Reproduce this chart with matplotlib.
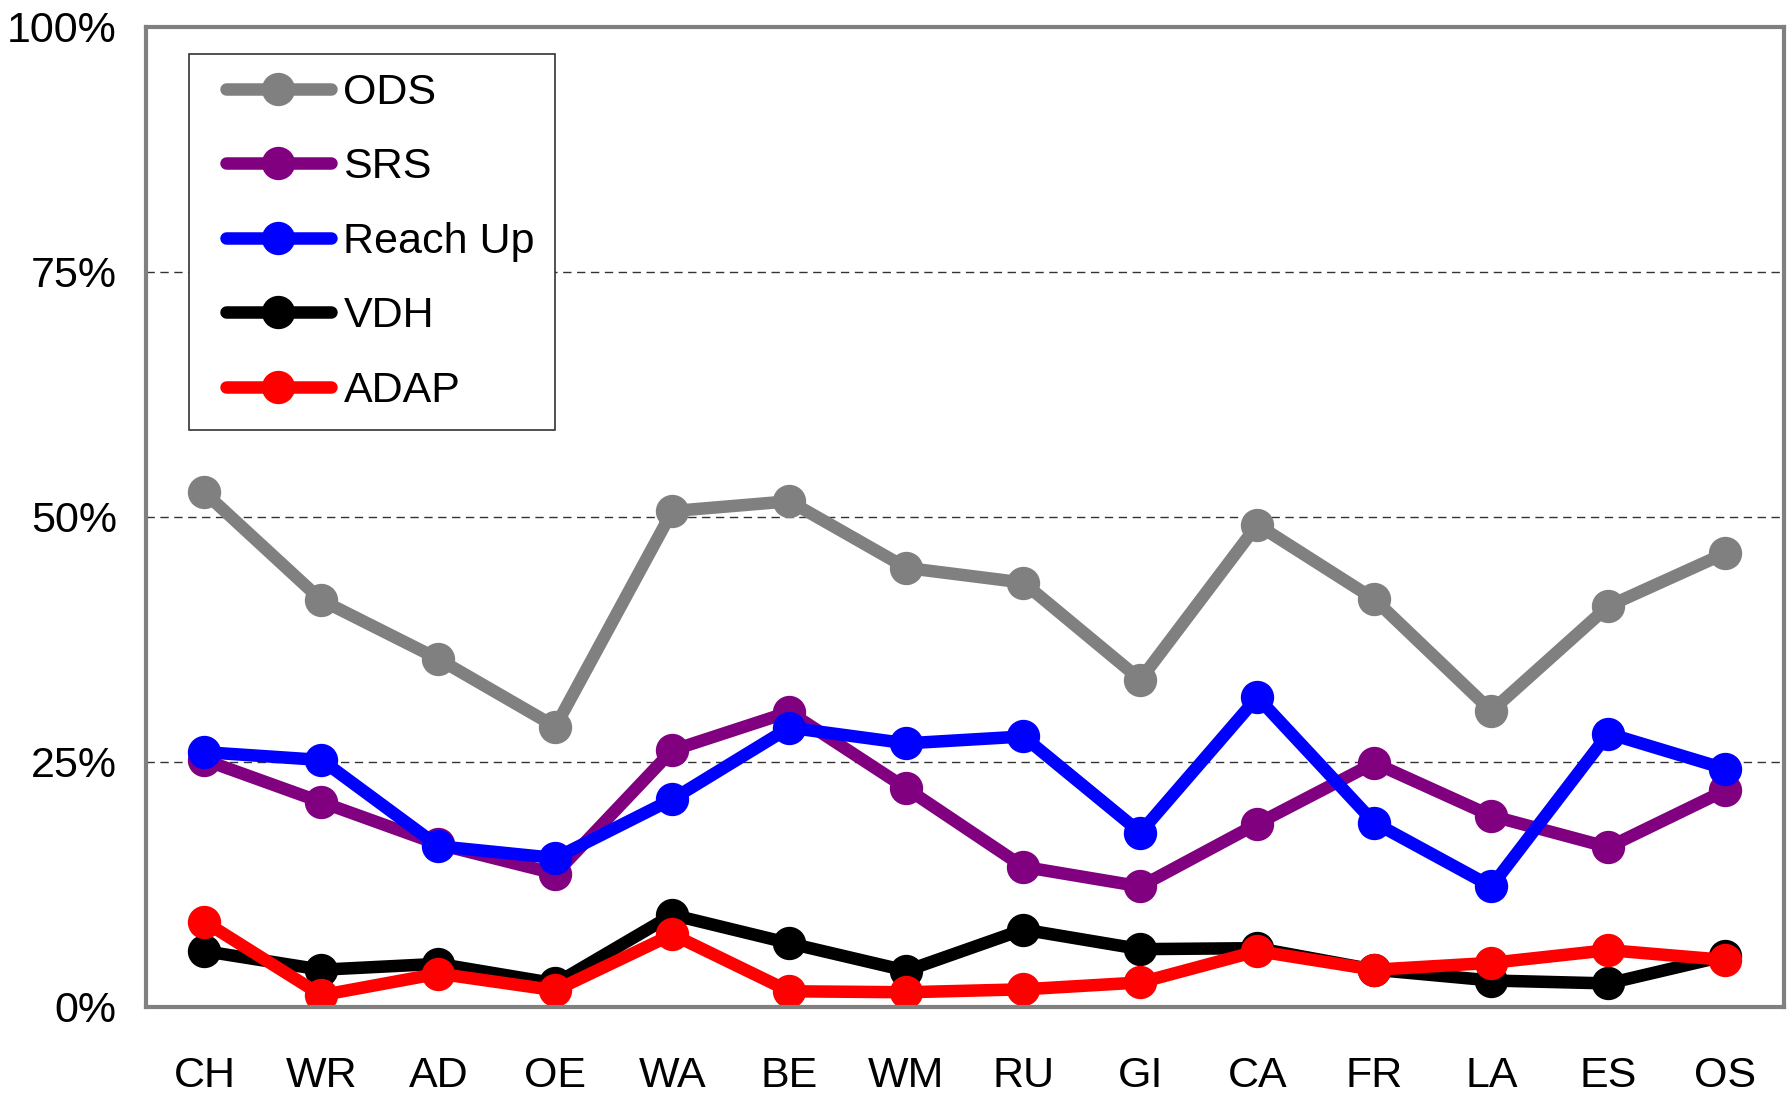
#!/usr/bin/env python3
"""Share of cases by agency across regions (line chart)."""

import matplotlib.pyplot as plt
from matplotlib.patches import Rectangle
from matplotlib.ticker import FixedLocator, FuncFormatter

plt.rcParams["font.family"] = ["Liberation Sans Narrow", "Liberation Sans", "DejaVu Sans"]

regions = ["CH", "WR", "AD", "OE", "WA", "BE", "WM", "RU", "GI", "CA", "FR", "LA", "ES", "OS"]

ods = [52.5, 41.5, 35.5, 28.6, 50.6, 51.6, 44.8, 43.3, 33.4, 49.2, 41.6, 30.2, 40.9, 46.3]
srs = [25.2, 20.9, 16.6, 13.6, 26.2, 30.1, 22.3, 14.3, 12.3, 18.7, 24.9, 19.5, 16.3, 22.1]
reach_up = [26.0, 25.2, 16.4, 15.2, 21.2, 28.5, 26.9, 27.6, 17.8, 31.6, 18.8, 12.3, 27.9, 24.3]
vdh = [5.7, 3.8, 4.4, 2.4, 9.4, 6.5, 3.7, 7.9, 5.9, 6.0, 3.8, 2.7, 2.4, 5.2]
adap = [8.7, 1.2, 3.4, 1.7, 7.4, 1.6, 1.5, 1.8, 2.5, 5.7, 3.8, 4.5, 5.8, 4.8]

series = [
    ("ODS", ods, "#808080"),
    ("SRS", srs, "#800080"),
    ("Reach Up", reach_up, "#0000ff"),
    ("VDH", vdh, "#000000"),
    ("ADAP", adap, "#ff0000"),
]


def main() -> None:
    fig = plt.figure(figsize=(17.91, 10.95), dpi=100)
    ax = fig.add_axes([0.0815, 0.0804, 0.9145, 0.895])

    x = list(range(len(regions)))
    for label, values, color in series:
        ax.plot(x, values, color=color, linewidth=9, marker="o",
                markersize=23, label=label, solid_joinstyle="round",
                solid_capstyle="round")

    ax.set_xlim(-0.5, len(regions) - 0.5)
    ax.set_ylim(0, 100)
    ax.set_xticks(x)
    ax.set_xticklabels(regions)
    ax.yaxis.set_major_locator(FixedLocator([0, 25, 50, 75, 100]))
    ax.yaxis.set_major_formatter(FuncFormatter(lambda v, _: f"{v:.0f}%"))
    ax.tick_params(axis="both", length=0, labelsize=31)
    ax.tick_params(axis="x", pad=35)
    ax.tick_params(axis="y", pad=21)

    for yv in (25, 50, 75):
        ax.axhline(yv, color="#333333", linewidth=1.0, linestyle=(0, (6, 4)), zorder=0)

    for spine in ax.spines.values():
        spine.set_color("#808080")
        spine.set_linewidth(3)

    # legend frame drawn separately: the box has more side padding than top padding
    ax.add_patch(Rectangle((0.0265, 0.589), 0.2232, 0.3836, transform=ax.transAxes,
                           facecolor="white", edgecolor="#333333", linewidth=1.2,
                           zorder=4))
    leg = ax.legend(loc="upper left", bbox_to_anchor=(0.0488, 0.953),
                    borderaxespad=0, borderpad=0, fontsize=31, frameon=False,
                    handlelength=2.44, handletextpad=0.29, labelspacing=0.8)
    leg.set_zorder(5)

    fig.savefig("out.png", dpi=100)
    plt.close(fig)


if __name__ == "__main__":
    main()
